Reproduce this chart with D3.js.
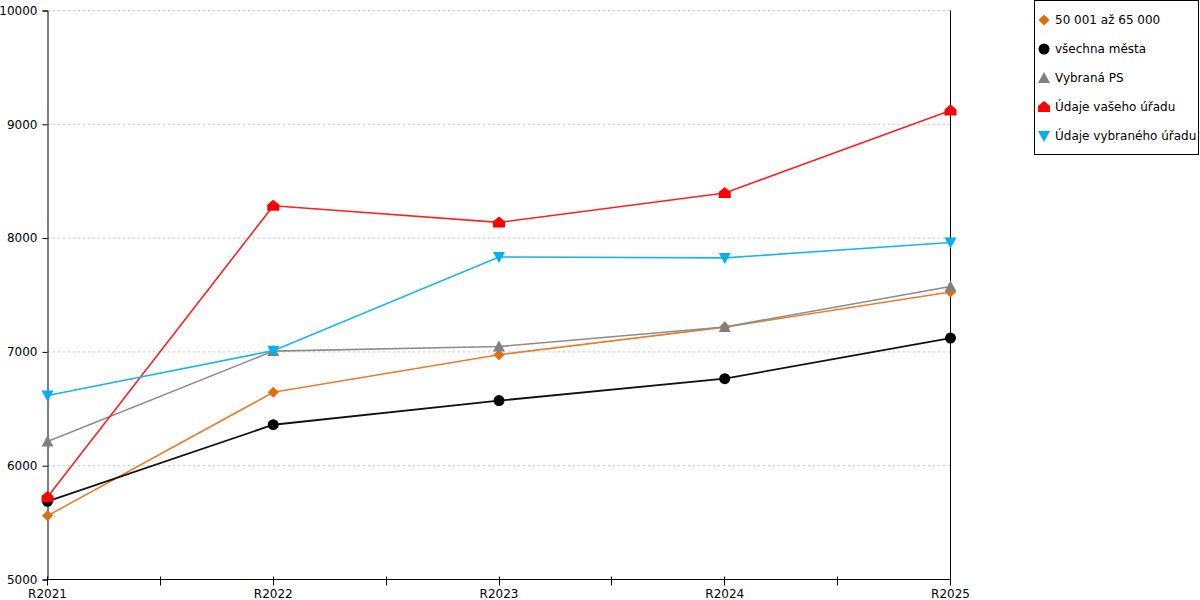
<!DOCTYPE html>
<html>
<head>
    <meta charset="utf-8">
    <title>Graf</title>
    <script src="https://d3js.org/d3.v7.min.js"></script>
    <style>
        body { margin: 0; background: #fff; }
        text { font-family: "DejaVu Sans", sans-serif; }
    </style>
</head>
<body>
    <script>
        // kategorie a hodnoty
        const categories = ["R2021", "R2022", "R2023", "R2024", "R2025"];
        const seriesNames = ["50 001 až 65 000", "všechna města", "Vybraná PS", "Údaje vašeho úřadu", "Údaje vybraného úřadu"];
        const valsOrange = [5560, 6645, 6975, 7218, 7526];
        const valsBlack = [5687, 6360, 6572, 6765, 7122];
        const valsGray = [6213, 7007, 7047, 7219, 7575];
        const valsRed = [5725, 8284, 8138, 8397, 9122];
        const valsBlue = [6617, 7011, 7834, 7826, 7962];
        const yTicks = [5000, 6000, 7000, 8000, 9000, 10000];

        const colors = ["#e36c0a", "#000000", "#808080", "#ff0000", "#00b0f0"];
        const lineColors = ["#e87f2e", "#111111", "#8c8c8c", "#ff2020", "#1ab4ee"];
        const shapes = ["diamond", "circle", "up", "house", "down"];
        const allVals = [valsOrange, valsBlack, valsGray, valsRed, valsBlue];

        const width = 1200, height = 600;

        const svg = d3.select("body").append("svg")
            .attr("width", width)
            .attr("height", height);

        const x = d3.scalePoint()
            .domain(categories)
            .range([47.5, 950.5]);

        const y = d3.scaleLinear()
            .domain([5000, 10000])
            .range([579.5, 10.5]);

        // mřížka
        svg.selectAll("line.grid")
            .data(yTicks.filter(d => d > 5000))
            .enter().append("line")
            .attr("class", "grid")
            .attr("x1", 48).attr("x2", 950)
            .attr("y1", d => y(d)).attr("y2", d => y(d))
            .attr("stroke", "#c4c4c4")
            .attr("stroke-dasharray", "2,3");

        // osa Y
        const yAxis = svg.append("g")
            .attr("transform", "translate(47.5,0)")
            .call(d3.axisLeft(y).tickValues(yTicks).tickSize(5).tickPadding(5).tickFormat(d3.format("d")));
        yAxis.selectAll("text").attr("font-size", 12).attr("fill", "#000").attr("font-family", "DejaVu Sans");
        yAxis.select(".domain").attr("stroke", "#000");

        // pravá osa
        svg.append("line")
            .attr("x1", x(categories[categories.length - 1])).attr("x2", x(categories[categories.length - 1]))
            .attr("y1", y(10000)).attr("y2", y(5000))
            .attr("stroke", "#000");

        // osa X
        const xg = svg.append("g").attr("transform", `translate(0,${y(5000)})`);
        xg.append("line")
            .attr("x1", 47.5).attr("x2", 950.5)
            .attr("stroke", "#000");
        const step = x.step();
        const tickPos = d3.range(categories.length * 2 - 1).map(i => x(categories[0]) + i * step / 2);
        xg.selectAll("line.tick")
            .data(tickPos)
            .enter().append("line")
            .attr("class", "tick")
            .attr("x1", d => Math.floor(d) + 0.5).attr("x2", d => Math.floor(d) + 0.5)
            .attr("y1", -3).attr("y2", 6)
            .attr("stroke", "#000");
        xg.selectAll("text")
            .data(categories)
            .enter().append("text")
            .attr("x", d => x(d))
            .attr("y", 18)
            .attr("text-anchor", "middle")
            .attr("font-size", 12)
            .text(d => d);

        // značky
        function marker(sel, shape, color) {
            if (shape === "circle") {
                sel.append("circle").attr("r", 5.5).attr("fill", color);
            } else {
                const paths = {
                    diamond: "M0,-5.5L5.5,0L0,5.5L-5.5,0Z",
                    up: "M0,-6L6,5L-6,5Z",
                    down: "M0,6L6,-5L-6,-5Z",
                    house: "M0,-6L6,-1L6,5L-6,5L-6,-1Z"
                };
                sel.append("path").attr("d", paths[shape]).attr("fill", color);
            }
        }

        const line = d3.line()
            .x((d, i) => x(categories[i]))
            .y(d => y(d));

        allVals.forEach((vals, s) => {
            svg.append("path")
                .datum(vals)
                .attr("fill", "none")
                .attr("stroke", lineColors[s])
                .attr("stroke-width", s === 1 ? 1.8 : 1.6)
                .attr("d", line);
            svg.selectAll(null)
                .data(vals)
                .enter().append("g")
                .attr("transform", (d, i) => `translate(${x(categories[i])},${y(d)})`)
                .each(function () { marker(d3.select(this), shapes[s], colors[s]); });
        });

        // legenda
        const legend = svg.append("g");
        legend.append("rect")
            .attr("x", 1034.5).attr("y", 0.5)
            .attr("width", 164).attr("height", 154)
            .attr("fill", "#fff").attr("stroke", "#000");
        seriesNames.forEach((name, s) => {
            const ly = 20 + s * 29;
            const g = legend.append("g").attr("transform", `translate(1044,${ly})`);
            marker(g, shapes[s], colors[s]);
            legend.append("text")
                .attr("x", 1055).attr("y", ly + 4)
                .attr("font-size", 12)
                .attr("fill", "#000")
                .text(name);
        });
    </script>
</body>
</html>
